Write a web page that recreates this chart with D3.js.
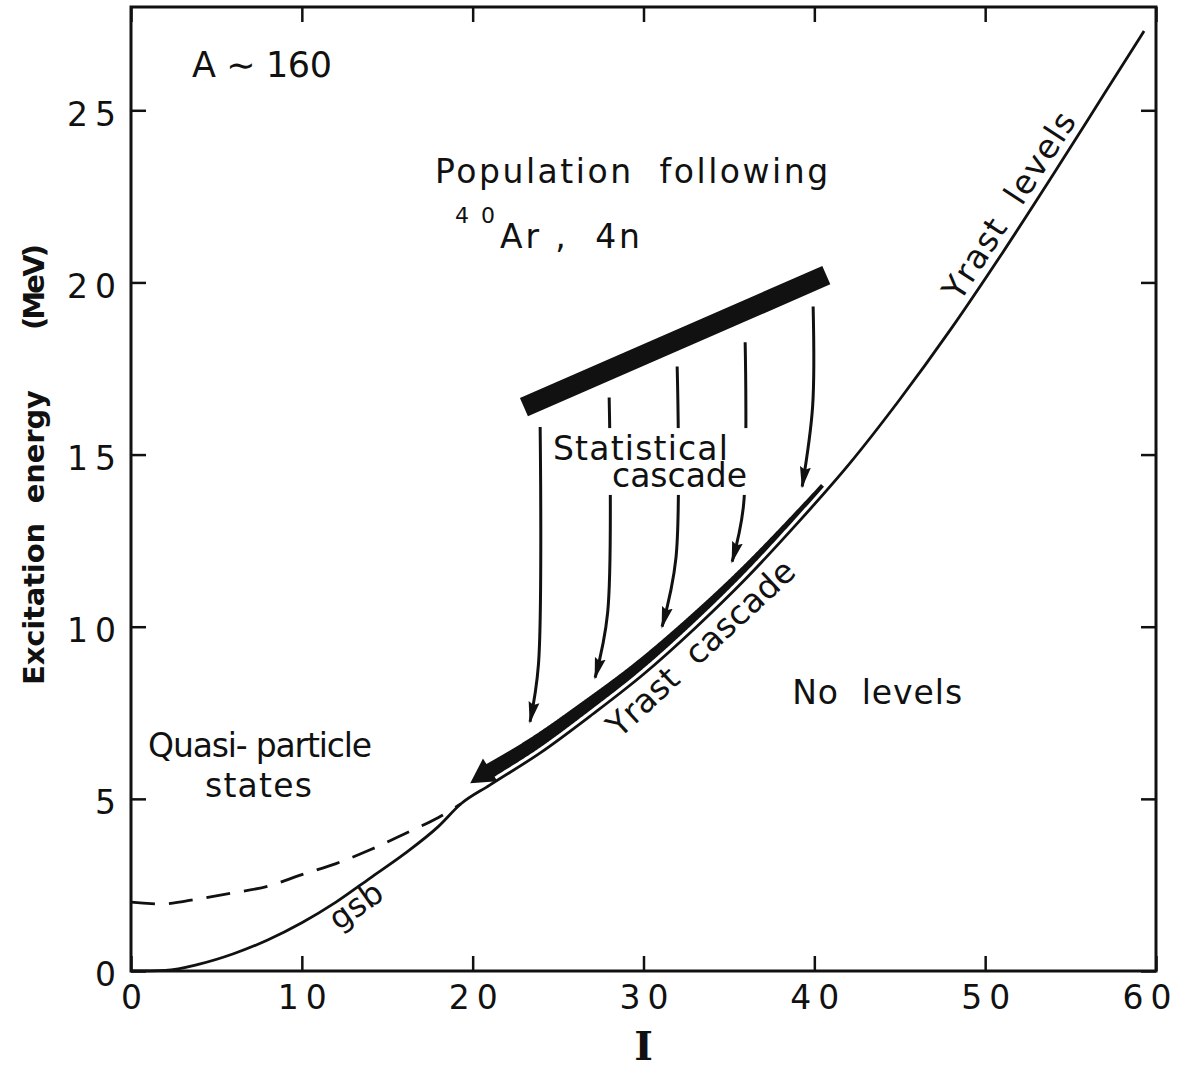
<!DOCTYPE html>
<html>
<head>
<meta charset="utf-8">
<script src="https://cdn.jsdelivr.net/npm/d3@7"></script>
<style>
  body { margin: 0; background: #fff; }
  svg { display: block; }
  text { font-family: "DejaVu Sans", sans-serif; fill: #111; white-space: pre; }
</style>
</head>
<body>
<div id="chart"></div>
<script>
// yrast line, spin I vs excitation energy E (MeV)
const yrastI = [0, 2, 4, 6, 8, 10, 12, 14, 16, 18, 19.3, 21, 24, 27, 30, 33, 36, 39, 42, 45, 48, 51, 54, 57, 59.3];
const yrastE = [0, 0.02, 0.2, 0.5, 0.9, 1.4, 2.0, 2.7, 3.4, 4.2, 4.85, 5.4, 6.35, 7.45, 8.62, 9.95, 11.4, 13.0, 14.7, 16.6, 18.65, 20.85, 23.15, 25.5, 27.3];

// quasi-particle band (dashed)
const qpI = [0, 2, 4, 6, 8, 10, 12, 14, 16, 18, 19.3];
const qpE = [2.0, 1.95, 2.1, 2.27, 2.46, 2.8, 3.12, 3.52, 3.98, 4.46, 4.85];

// entry population bar (40Ar,4n)
const barI = [23.0, 40.7];
const barE = [16.38, 20.21];

// statistical cascade arrows: start, bend, tip
const statStartI = [23.95, 27.99, 31.97, 35.95, 39.93];
const statStartE = [15.8, 16.66, 17.56, 18.26, 19.3];
const statBendI = [23.85, 27.9, 31.9, 35.85, 39.9];
const statBendE = [8.9, 10.4, 12.0, 13.5, 16.4];
const statTipI = [23.36, 27.17, 31.09, 35.19, 39.29];
const statTipE = [7.24, 8.52, 10.0, 11.89, 14.07];

// yrast cascade arrow spans these spins
const cascadeI = [21.3, 40.8];

const xTicks = [0, 10, 20, 30, 40, 50, 60];
const yTicks = [0, 5, 10, 15, 20, 25];

const width = 1184;
const height = 1074;

const svg = d3.select("#chart")
  .append("svg")
  .attr("width", width)
  .attr("height", height)
  .style("background", "#fff");

const x = d3.scaleLinear().domain([0, 60]).range([131, 1156]);
const y = d3.scaleLinear().domain([0, 28]).range([971, 7]);

const ink = "#111";

// yrast line
const yrastLine = d3.line()
  .x(d => x(d[0]))
  .y(d => y(d[1]))
  .curve(d3.curveMonotoneX);

const yrastPath = svg.append("path")
  .attr("d", yrastLine(yrastI.map((v, i) => [v, yrastE[i]])))
  .attr("fill", "none")
  .attr("stroke", ink)
  .attr("stroke-width", 2.8);

// dashed quasi-particle line
svg.append("path")
  .attr("d", d3.line()
    .x(d => x(d[0]))
    .y(d => y(d[1]))
    .curve(d3.curveCatmullRom)(qpI.map((v, i) => [v, qpE[i]])))
  .attr("fill", "none")
  .attr("stroke", ink)
  .attr("stroke-width", 2.8)
  .attr("stroke-dasharray", "24,14");

// sample the yrast path so the cascade band and labels can follow it
const node = yrastPath.node();
const total = node.getTotalLength();
const samples = d3.range(0, total, 1).map(l => node.getPointAtLength(l));

function frameAt(i) {
  const q0 = samples[Math.max(0, i - 4)];
  const q1 = samples[Math.min(samples.length - 1, i + 4)];
  let dx = q1.x - q0.x, dy = q1.y - q0.y;
  const len = Math.hypot(dx, dy);
  dx /= len; dy /= len;
  return { p: samples[i], dx, dy, nx: dy, ny: -dx };
}

function indexAtX(px) {
  let best = 0;
  samples.forEach((s, i) => {
    if (Math.abs(s.x - px) < Math.abs(samples[best].x - px)) best = i;
  });
  return best;
}

// yrast cascade band (thick arrow)
const xa = x(cascadeI[0]), xb = x(cascadeI[1]);
const inner = 4.5;
const wBottom = 15, wTop = 4;
const lower = [], upper = [];
samples.forEach((s, i) => {
  if (s.x < xa || s.x > xb) return;
  const f = frameAt(i);
  const t = (s.x - xa) / (xb - xa);
  const w = wBottom - (wBottom - wTop) * t;
  lower.push([s.x + f.nx * inner, s.y + f.ny * inner]);
  upper.push([s.x + f.nx * (inner + w), s.y + f.ny * (inner + w)]);
});
svg.append("path")
  .attr("d", "M" + lower.concat(upper.reverse()).join("L") + "Z")
  .attr("fill", ink);

// arrow head of the yrast cascade
const fa = frameAt(indexAtX(xa));
const cx = fa.p.x + fa.nx * (inner + wBottom / 2);
const cy = fa.p.y + fa.ny * (inner + wBottom / 2);
const head = [
  [cx + fa.nx * 14 + fa.dx * 2, cy + fa.ny * 14 + fa.dy * 2],
  [cx - fa.dx * 22, cy - fa.dy * 22],
  [cx - fa.nx * 13 + fa.dx * 2, cy - fa.ny * 13 + fa.dy * 2]
];
svg.append("path")
  .attr("d", "M" + head.join("L") + "Z")
  .attr("fill", ink);

// population bar
svg.append("line")
  .attr("x1", x(barI[0])).attr("y1", y(barE[0]))
  .attr("x2", x(barI[1])).attr("y2", y(barE[1]))
  .attr("stroke", ink)
  .attr("stroke-width", 20);

// arrow marker for the statistical cascade
svg.append("defs").append("marker")
  .attr("id", "head")
  .attr("markerUnits", "userSpaceOnUse")
  .attr("viewBox", "0 -6 22 12")
  .attr("refX", 20)
  .attr("refY", 0)
  .attr("markerWidth", 22)
  .attr("markerHeight", 12)
  .attr("orient", "auto")
  .append("path")
  .attr("d", "M0,-5.5L22,0L0,5.5L3,0Z")
  .attr("fill", ink);

const statLine = d3.line()
  .x(d => x(d[0]))
  .y(d => y(d[1]))
  .curve(d3.curveCatmullRom.alpha(0.5));

statStartI.forEach((s, i) => {
  const pts = [
    [s, statStartE[i]],
    [statBendI[i], statBendE[i]],
    [statTipI[i], statTipE[i]]
  ];
  svg.append("path")
    .attr("d", statLine(pts))
    .attr("fill", "none")
    .attr("stroke", ink)
    .attr("stroke-width", 3)
    .attr("marker-end", "url(#head)");
});

// text helpers
function label(txt, I, E, size, len) {
  const t = svg.append("text")
    .attr("x", x(I))
    .attr("y", y(E))
    .attr("font-size", size)
    .text(txt);
  if (len) t.attr("textLength", len).attr("lengthAdjust", "spacing");
  return t;
}

// "Statistical cascade" knocks out the arrows behind it
const statNodes = [
  label("Statistical", 24.7, 14.84, 33, 175),
  label("cascade", 28.16, 14.06, 33, 135)
];
const b1 = statNodes[0].node().getBBox();
const b2 = statNodes[1].node().getBBox();
const bx0 = Math.min(b1.x, b2.x) - 2, bx1 = Math.max(b1.x + b1.width, b2.x + b2.width) + 2;
const by0 = b1.y - 1, by1 = b2.y + b2.height;
svg.insert("rect", function () { return statNodes[0].node(); })
  .attr("x", bx0).attr("y", by0)
  .attr("width", bx1 - bx0).attr("height", by1 - by0)
  .attr("fill", "#fff");

label("A \u223C 160", 3.57, 25.97, 35, 140);
label("Population  following", 17.8, 22.9, 33, 393);
label("40", 18.97, 21.73, 22, 40);
label("Ar ,  4n", 21.6, 21.0, 33, 140);
label("No  levels", 38.7, 7.75, 33, 170);
label("Quasi- particle", 1.0, 6.22, 33, 224);
label("states", 4.33, 5.05, 33, 107);

// labels running along the yrast line
function curveLabel(txt, I, offset, size, len) {
  const f = frameAt(indexAtX(x(I)));
  const ang = Math.atan2(f.dy, f.dx) * 180 / Math.PI;
  svg.append("text")
    .attr("transform", `translate(${f.p.x},${f.p.y}) rotate(${ang})`)
    .attr("y", offset)
    .attr("text-anchor", "middle")
    .attr("font-size", size)
    .attr("textLength", len)
    .attr("lengthAdjust", "spacing")
    .text(txt);
}
curveLabel("Yrast  levels", 52.4, -9, 33, 216);
curveLabel("Yrast  cascade", 32.6, 30, 33, 243);
curveLabel("gsb", 12.7, 25, 32, 58);

// axes with inward ticks
const tickLen = -15;
const gx = svg.append("g")
  .attr("transform", `translate(0,${y(0)})`)
  .call(d3.axisBottom(x).tickValues(xTicks).tickSizeInner(tickLen).tickSizeOuter(0).tickPadding(15));
const gy = svg.append("g")
  .attr("transform", `translate(${x(0)},0)`)
  .call(d3.axisLeft(y).tickValues(yTicks).tickSizeInner(tickLen).tickSizeOuter(0).tickPadding(8));
const gt = svg.append("g")
  .attr("transform", `translate(0,${y(28)})`)
  .call(d3.axisTop(x).tickValues(xTicks).tickSizeInner(tickLen).tickSizeOuter(0).tickFormat(""));
const gr = svg.append("g")
  .attr("transform", `translate(${x(60)},0)`)
  .call(d3.axisRight(y).tickValues(yTicks).tickSizeInner(tickLen).tickSizeOuter(0).tickFormat(""));

[gx, gy, gt, gr].forEach(g => {
  g.select(".domain").remove();
  g.selectAll(".tick line").attr("stroke", ink).attr("stroke-width", 2.5);
  g.selectAll(".tick text")
    .attr("fill", ink)
    .style("font-family", "'DejaVu Sans', sans-serif")
    .style("font-size", "33px")
    .style("letter-spacing", "7px");
});
gx.selectAll(".tick text").attr("dx", (d, i) => i === xTicks.length - 1 ? -6 : 3.5);
gy.selectAll(".tick text").attr("dy", "0.45em");

// frame
svg.append("rect")
  .attr("x", x(0)).attr("y", y(28))
  .attr("width", x(60) - x(0))
  .attr("height", y(0) - y(28))
  .attr("fill", "none")
  .attr("stroke", ink)
  .attr("stroke-width", 3);

// axis titles
svg.append("text")
  .attr("x", x(30))
  .attr("y", 1060)
  .attr("text-anchor", "middle")
  .style("font-family", "'DejaVu Serif', serif")
  .attr("font-weight", "bold")
  .attr("font-size", 40)
  .text("I");

svg.append("text")
  .attr("transform", "translate(44,685) rotate(-90)")
  .attr("font-weight", "bold")
  .attr("font-size", 29)
  .attr("textLength", 295)
  .attr("lengthAdjust", "spacing")
  .text("Excitation  energy");

svg.append("text")
  .attr("transform", "translate(44,330) rotate(-90)")
  .attr("font-weight", "bold")
  .attr("font-size", 29)
  .attr("textLength", 86)
  .attr("lengthAdjust", "spacing")
  .text("(MeV)");
</script>
</body>
</html>
